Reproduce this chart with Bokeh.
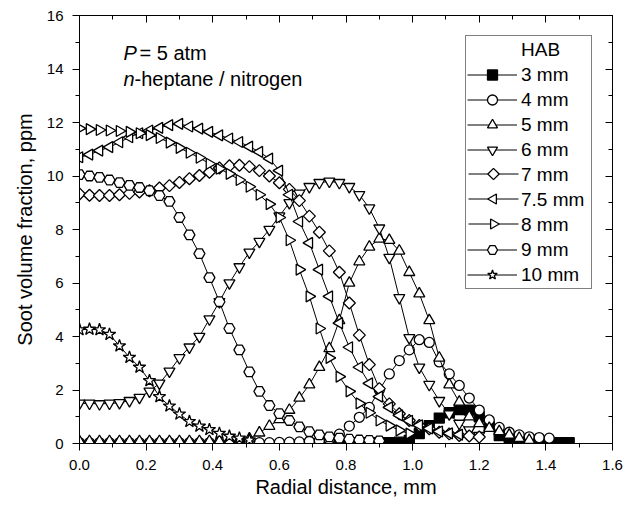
import math
from bokeh.plotting import figure
from bokeh.models import (Range1d, LinearAxis, SingleIntervalTicker, Legend, LegendItem,
                          Label, CustomJSTickFormatter, PrintfTickFormatter)
from bokeh.embed import file_html
from bokeh.resources import INLINE

FONT = "Liberation Sans"

# ---- data (radial distance in mm, soot volume fraction in ppm) ----
x3 = [0.75, 0.78, 0.81, 0.84, 0.87, 0.90, 0.93, 0.96, 0.99, 1.02, 1.05, 1.08, 1.11, 1.14,
      1.17, 1.20, 1.23, 1.26, 1.29, 1.32, 1.35, 1.38, 1.41, 1.44, 1.47]
y3 = [0.03, 0.03, 0.03, 0.03, 0.03, 0.03, 0.03, 0.05, 0.12, 0.37, 0.67, 0.95, 1.15, 1.27,
      1.25, 1.0, 0.65, 0.3, 0.1, 0.04, 0.03, 0.03, 0.03, 0.03, 0.03]

x4 = [0.00, 0.03, 0.06, 0.09, 0.12, 0.15, 0.18, 0.21, 0.24, 0.27, 0.30, 0.33, 0.36, 0.39,
      0.42, 0.45, 0.48, 0.51, 0.54, 0.57, 0.60, 0.63, 0.66, 0.69, 0.72, 0.75, 0.78, 0.81,
      0.84, 0.87, 0.90, 0.93, 0.96, 0.99, 1.02, 1.05, 1.08, 1.11, 1.14, 1.17, 1.20, 1.23,
      1.26, 1.29, 1.32, 1.35, 1.38, 1.41]
y4 = [0.03, 0.03, 0.03, 0.03, 0.03, 0.03, 0.03, 0.03, 0.03, 0.03, 0.03, 0.03, 0.03, 0.03,
      0.03, 0.03, 0.03, 0.03, 0.03, 0.03, 0.04, 0.05, 0.06, 0.08, 0.1, 0.15, 0.35, 0.65,
      0.98, 1.35, 2.0, 2.6, 3.1, 3.5, 3.88, 3.78, 3.05, 2.6, 2.17, 1.7, 1.25, 0.88,
      0.6, 0.42, 0.32, 0.25, 0.22, 0.2]

x5 = [0.00, 0.03, 0.06, 0.09, 0.12, 0.15, 0.18, 0.21, 0.24, 0.27, 0.30, 0.33, 0.36, 0.39,
      0.42, 0.45, 0.48, 0.51, 0.54, 0.57, 0.60, 0.63, 0.66, 0.69, 0.72, 0.75, 0.78, 0.81,
      0.84, 0.87, 0.90, 0.93, 0.96, 0.99, 1.02, 1.05, 1.08, 1.11, 1.14, 1.17, 1.20, 1.23,
      1.26, 1.29, 1.32, 1.35]
y5 = [0.08, 0.08, 0.08, 0.08, 0.08, 0.08, 0.08, 0.08, 0.08, 0.08, 0.08, 0.08, 0.08, 0.08,
      0.08, 0.08, 0.09, 0.18, 0.4, 0.65, 0.9, 1.25, 1.7, 2.2, 2.85, 3.55, 4.6, 6.0,
      6.8, 7.35, 7.65, 7.6, 7.2, 6.4, 5.6, 4.6, 3.2, 2.2, 1.55, 1.0, 0.75, 0.57,
      0.45, 0.32, 0.2, 0.12]

x6 = [0.00, 0.03, 0.06, 0.09, 0.12, 0.15, 0.18, 0.21, 0.24, 0.27, 0.30, 0.33, 0.36, 0.39,
      0.42, 0.45, 0.48, 0.51, 0.54, 0.57, 0.60, 0.63, 0.66, 0.69, 0.72, 0.75, 0.78, 0.81,
      0.84, 0.87, 0.90, 0.93, 0.96, 0.99, 1.02, 1.05, 1.08, 1.11, 1.14, 1.17, 1.20]
y6 = [1.5, 1.5, 1.48, 1.5, 1.52, 1.6, 1.72, 1.95, 2.25, 2.7, 3.2, 3.6, 4.0, 4.65,
      5.3, 6.0, 6.6, 7.15, 7.55, 8.0, 8.5, 9.0, 9.35, 9.6, 9.75, 9.8, 9.75, 9.6,
      9.3, 8.8, 8.05, 6.95, 5.45, 3.95, 2.85, 2.2, 1.6, 1.1, 0.75, 0.5, 0.3]

x7 = [0.00, 0.03, 0.06, 0.09, 0.12, 0.15, 0.18, 0.21, 0.24, 0.27, 0.30, 0.33, 0.36, 0.39,
      0.42, 0.45, 0.48, 0.51, 0.54, 0.57, 0.60, 0.63, 0.66, 0.69, 0.72, 0.75, 0.78, 0.81,
      0.84, 0.87, 0.90, 0.93, 0.96, 0.99, 1.02, 1.05, 1.08, 1.11, 1.14, 1.17, 1.20]
y7 = [9.33, 9.28, 9.27, 9.27, 9.3, 9.35, 9.4, 9.45, 9.55, 9.64, 9.76, 9.9, 10.02, 10.14,
      10.3, 10.38, 10.4, 10.35, 10.2, 10.0, 9.75, 9.5, 9.08, 8.5, 7.9, 7.2, 6.4, 5.25,
      4.05, 2.95, 2.05, 1.48, 1.11, 0.86, 0.67, 0.55, 0.42, 0.36, 0.3, 0.28, 0.24]

x75 = [0.00, 0.03, 0.06, 0.09, 0.12, 0.15, 0.18, 0.21, 0.24, 0.27, 0.30, 0.33, 0.36, 0.39,
       0.42, 0.45, 0.48, 0.51, 0.54, 0.57, 0.60, 0.63, 0.66, 0.69, 0.72, 0.75, 0.78, 0.81,
       0.84, 0.87, 0.90, 0.93, 0.96, 0.99, 1.02, 1.05, 1.08, 1.11, 1.14]
y75 = [10.7, 10.8, 10.95, 11.08, 11.26, 11.45, 11.6, 11.7, 11.8, 11.9, 11.95, 11.85, 11.77, 11.65,
       11.52, 11.4, 11.27, 11.1, 10.9, 10.65, 10.2, 9.3, 8.3, 7.5, 6.5, 5.5, 4.5, 3.6,
       2.85, 2.25, 1.75, 1.35, 1.05, 0.85, 0.68, 0.56, 0.45, 0.38, 0.33]

x8 = [0.00, 0.03, 0.06, 0.09, 0.12, 0.15, 0.18, 0.21, 0.24, 0.27, 0.30, 0.33, 0.36, 0.39,
      0.42, 0.45, 0.48, 0.51, 0.54, 0.57, 0.60, 0.63, 0.66, 0.69, 0.72, 0.75, 0.78, 0.81,
      0.84, 0.87, 0.90, 0.93, 0.96, 0.99]
y8 = [11.78, 11.75, 11.72, 11.7, 11.68, 11.65, 11.6, 11.53, 11.42, 11.25, 11.05, 10.87, 10.68, 10.46,
      10.27, 10.08, 9.85, 9.6, 9.3, 8.95, 8.45, 7.6, 6.5, 5.5, 4.3, 3.2, 2.5, 1.95,
      1.5, 1.15, 0.86, 0.67, 0.49, 0.37]

x9 = [0.00, 0.03, 0.06, 0.09, 0.12, 0.15, 0.18, 0.21, 0.24, 0.27, 0.30, 0.33, 0.36, 0.39,
      0.42, 0.45, 0.48, 0.51, 0.54, 0.57, 0.60, 0.63, 0.66, 0.69, 0.72, 0.75, 0.78, 0.81,
      0.84, 0.87, 0.90]
y9 = [10.05, 10.0, 9.95, 9.85, 9.75, 9.65, 9.57, 9.45, 9.27, 9.05, 8.45, 7.8, 7.1, 6.2,
      5.3, 4.3, 3.5, 2.68, 1.95, 1.42, 1.12, 0.86, 0.62, 0.44, 0.32, 0.25, 0.2, 0.16,
      0.13, 0.12, 0.1]

x10 = [0.00, 0.03, 0.06, 0.09, 0.12, 0.15, 0.18, 0.21, 0.24, 0.27, 0.30, 0.33, 0.36, 0.39,
       0.42, 0.45, 0.48, 0.51]
y10 = [4.25, 4.27, 4.25, 4.08, 3.65, 3.22, 2.85, 2.35, 1.75, 1.4, 1.1, 0.82, 0.65, 0.52,
       0.38, 0.27, 0.2, 0.13]

labels = ["3 mm", "4 mm", "5 mm", "6 mm", "7 mm", "7.5 mm", "8 mm", "9 mm", "10 mm"]
xs = [x3, x4, x5, x6, x7, x75, x8, x9, x10]
ys = [y3, y4, y5, y6, y7, y75, y8, y9, y10]
# marker, size, fill, angle, legend-icon size
styles = [
    ("square", 10, "black", 0.0, 10),
    ("circle", 10, "white", 0.0, 10),
    ("triangle", 11, "white", 0.0, 10),
    ("inverted_triangle", 11, "white", 0.0, 10),
    ("square", 8.5, "white", math.pi / 4, 8),
    ("triangle", 11, "white", math.pi / 2, 10),
    ("triangle", 11, "white", -math.pi / 2, 10),
    ("hex", 11, "white", 0.0, 10),
    ("star", 13, "white", 0.0, 10),
]

# ---- layout constants (pixels) ----
W, H = 633, 507
B_LEFT, B_RIGHT, B_TOP, B_BOTTOM = 79, 21, 15, 64
X0, X1, Y0, Y1 = 0.0, 1.6, 0.0, 16.0
FRAME_W = W - B_LEFT - B_RIGHT
FRAME_H = H - B_TOP - B_BOTTOM
LEG_MARGIN, LEG_PAD, ROW_H, GLYPH_W, LABEL_GAP, LABEL_W = 20, 1, 25, 50, 4, 69
LEG_WIDTH = 2 * LEG_PAD + GLYPH_W + LABEL_GAP + LABEL_W

p = figure(width=W, height=H, output_backend="svg", toolbar_location=None,
           x_range=Range1d(X0, X1), y_range=Range1d(Y0, Y1),
           min_border_left=B_LEFT, min_border_right=B_RIGHT,
           min_border_top=B_TOP, min_border_bottom=B_BOTTOM)
p.xgrid.visible = False
p.ygrid.visible = False
p.outline_line_color = "black"
p.outline_line_width = 1
p.background_fill_color = "white"
p.border_fill_color = "white"

p.xaxis.ticker = SingleIntervalTicker(interval=0.2, num_minor_ticks=2)
p.yaxis.ticker = SingleIntervalTicker(interval=2, num_minor_ticks=2)
p.xaxis.formatter = PrintfTickFormatter(format="%.1f")
p.xaxis.axis_label = "Radial distance, mm"
p.yaxis.axis_label = "Soot volume fraction, ppm"
for ax in (p.xaxis[0], p.yaxis[0]):
    ax.major_tick_out = 7
    ax.major_tick_in = 0
    ax.minor_tick_out = 4
    ax.minor_tick_in = 0
    ax.axis_line_color = "black"
    ax.major_tick_line_color = "black"
    ax.minor_tick_line_color = "black"
    ax.major_label_text_font = FONT
    ax.major_label_text_font_size = "15px"
    ax.major_label_text_color = "black"
    ax.axis_label_text_font = FONT
    ax.axis_label_text_font_size = "20px"
    ax.axis_label_text_font_style = "normal"
    ax.axis_label_text_color = "black"
p.xaxis.major_label_standoff = 9
p.yaxis.major_label_standoff = 9
p.xaxis.axis_label_standoff = 3
p.yaxis.axis_label_standoff = 8

blank = CustomJSTickFormatter(code="return '';")
top = LinearAxis(ticker=SingleIntervalTicker(interval=0.2, num_minor_ticks=2), formatter=blank,
                 major_tick_in=7, major_tick_out=0, minor_tick_in=4, minor_tick_out=0,
                 major_label_standoff=0)
right = LinearAxis(ticker=SingleIntervalTicker(interval=2, num_minor_ticks=2), formatter=blank,
                   major_tick_in=7, major_tick_out=0, minor_tick_in=4, minor_tick_out=0,
                   major_label_standoff=0)
p.add_layout(top, "above")
p.add_layout(right, "right")


def px_to_x(px):
    return X0 + (px - B_LEFT) * (X1 - X0) / FRAME_W


def py_to_y(py):
    return Y1 - (py - B_TOP) * (Y1 - Y0) / FRAME_H


# the legend does not rotate marker icons, so the icons of the rotated-marker
# entries are drawn under the (transparent) legend box
leg_left = W - B_RIGHT - LEG_MARGIN - LEG_WIDTH
icon_l = leg_left + LEG_PAD
icon_r = icon_l + GLYPH_W


def row_py(k):
    return B_TOP + LEG_MARGIN + LEG_PAD + ROW_H * k + ROW_H / 2


items = []
dummy = p.scatter(x=[], y=[], size=1, fill_alpha=0, line_alpha=0)
items.append(LegendItem(label="HAB", renderers=[dummy]))
for k, (lab, x, y, (mk, sz, fc, ang, isz)) in enumerate(zip(labels, xs, ys, styles)):
    lr = p.line(x, y, line_color="black", line_width=1)
    sr = p.scatter(x, y, marker=mk, size=sz, fill_color=fc, line_color="black",
                   line_width=1.3, angle=ang)
    if ang != 0.0:
        iy = py_to_y(row_py(k + 1))
        p.line([px_to_x(icon_l), px_to_x(icon_r)], [iy, iy], line_color="black", line_width=1)
        p.scatter([px_to_x((icon_l + icon_r) / 2)], [iy], marker=mk, size=isz,
                  fill_color=fc, line_color="black", line_width=1.3, angle=ang)
        items.append(LegendItem(label=lab, renderers=[dummy]))
    else:
        items.append(LegendItem(label=lab, renderers=[lr, sr]))

legend = Legend(items=items, location="top_right", margin=LEG_MARGIN, padding=LEG_PAD,
                spacing=0, label_height=ROW_H, label_width=LABEL_W, glyph_width=GLYPH_W,
                glyph_height=ROW_H, label_standoff=LABEL_GAP,
                label_text_font=FONT, label_text_font_size="19px", label_text_color="black",
                border_line_color="black", border_line_width=1,
                background_fill_alpha=0)
p.add_layout(legend)

ann = dict(text_font=FONT, text_font_size="20px", text_color="black", text_baseline="alphabetic")
p.add_layout(Label(x=0.132, y=14.58, text="P", text_font_style="italic", **ann))
p.add_layout(Label(x=0.132, y=14.58, x_offset=16, text="= 5 atm", **ann))
p.add_layout(Label(x=0.132, y=13.64, text="n", text_font_style="italic", **ann))
p.add_layout(Label(x=0.132, y=13.64, x_offset=11, text="-heptane / nitrogen", **ann))

open("out.html", "w").write(file_html(p, INLINE))
